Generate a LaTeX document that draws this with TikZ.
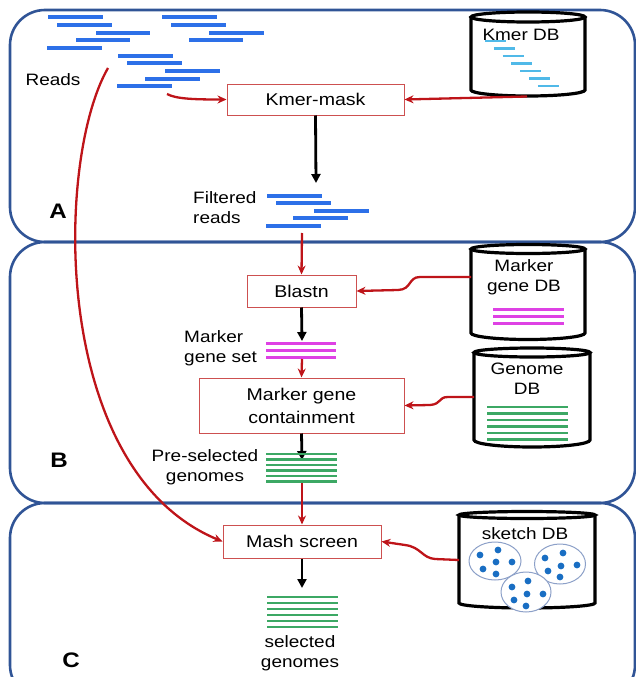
\documentclass[tikz,border=0pt]{standalone}
\usepackage{fontspec}
\setmainfont[FakeStretch=1.15]{Liberation Sans}
\usetikzlibrary{arrows.meta}
\definecolor{panelblue}{RGB}{48,84,150}
\definecolor{readblue}{RGB}{45,112,232}
\definecolor{kmerblue}{RGB}{80,185,232}
\definecolor{mgmag}{RGB}{222,65,228}
\definecolor{gengreen}{RGB}{60,168,100}
\definecolor{dotblue}{RGB}{25,110,195}
\definecolor{skline}{RGB}{140,160,200}
\definecolor{arrred}{RGB}{190,20,25}
\definecolor{boxred}{RGB}{205,80,80}
\begin{document}
\begin{tikzpicture}[x=1pt,y=-1pt,
  panel/.style={draw=panelblue,line width=2.6pt,rounded corners=35pt},
  procbox/.style={draw=boxred,line width=1pt,fill=white,inner sep=0pt,align=center,
    font=\fontsize{17}{23}\selectfont},
  rarrow/.style={draw=arrred,line width=2.3pt,-{Stealth[length=9pt,width=8pt]}},
  barrow/.style={draw=black,line width=2.8pt,-{Triangle[length=9pt,width=9pt]}},
  readbar/.style={draw=readblue,line width=3.8pt},
  kbar/.style={draw=kmerblue,line width=2.2pt},
  mbar/.style={draw=mgmag,line width=3pt},
  gbar/.style={draw=gengreen,line width=2.2pt},
  dbline/.style={draw=black,line width=3.2pt},
  lbl/.style={inner sep=0pt,font=\fontsize{16.5}{20}\selectfont},
  panellbl/.style={inner sep=0pt,font=\fontsize{21}{24}\selectfont\bfseries},
  skell/.style={draw=skline,line width=1pt,fill=white},
]
\useasboundingbox (0,0) rectangle (636,677);
\clip (0,0) rectangle (636,677);

% panels
\draw[panel] (10,10) rectangle (635,242);
\draw[panel] (10,242) rectangle (635,503);
\draw[panel] (10,503) rectangle (635,700);

\node[panellbl] (labA) at (58,211) {A};
\node[panellbl] (labB) at (59,460) {B};
\node[panellbl] (labC) at (71,660) {C};

% reads
\foreach \xa/\xb/\yy in {48/103/17,162/217/17,57/112/25,171/226/25,96/150/33,209/264/33,
  76/130/40,189/243/40,47/102/48,118/173/56,127/182/63,165/220/71,145/200/79,117/172/86}
  \draw[readbar] (\xa,\yy) -- (\xb,\yy);
\node[lbl] (reads) at (53,80) {Reads};
\coordinate (readsout) at (167,94);
\coordinate (readslong) at (108,68);

% Kmer DB
\draw[dbline] (528,17) ellipse[x radius=57,y radius=5];
\draw[dbline] (471,17) -- (471,90) arc[start angle=180,end angle=0,x radius=57,y radius=6] -- (585,17);
\node[lbl] (kmerdb) at (521,35) {Kmer DB};
\foreach \i in {0,...,6}
  \draw[kbar] ({485+8.8*\i},{41+7.5*\i}) -- ({506+8.8*\i},{41+7.5*\i});
\coordinate (kmerdbout) at (527,96.5);

% Kmer-mask
\node[procbox,minimum width=177pt,minimum height=31pt] (kmask) at (315.5,99.5) {Kmer-mask};
\draw[rarrow] (readsout) .. controls (176,99) and (195,99.5) .. (kmask.west);
\draw[rarrow] (kmerdbout) -- (kmask.east);

% filtered reads
\coordinate (frtop) at (316,183);
\draw[barrow] (kmask.south) -- (frtop);
\foreach \xa/\xb/\yy in {267/322/196,276/331/203,314/369/211,293/348/218,266/321/226}
  \draw[readbar] (\xa,\yy) -- (\xb,\yy);
\node[lbl,anchor=west,align=left] (filt) at (193,208) {Filtered\\reads};
\coordinate (frbot) at (302,233);

% Blastn
\node[procbox,minimum width=109pt,minimum height=32pt] (blastn) at (301.5,291) {Blastn};
\draw[rarrow] (frbot) -- (blastn.north);

% Marker gene DB
\draw[dbline] (528,249) ellipse[x radius=57,y radius=4.5];
\draw[dbline] (471,249) -- (471,333) arc[start angle=180,end angle=0,x radius=57,y radius=6.5] -- (585,249);
\node[lbl,align=center] (mgdb) at (524,277) {Marker\\gene DB};
\foreach \yy in {309,316,323} \draw[mbar] (493,\yy) -- (564,\yy);
\coordinate (mgdbout) at (471,277);
\draw[rarrow] (mgdbout) -- (420,277) .. controls (408,277) and (412,289.5) .. (398,290) -- (blastn.east);

% marker gene set
\coordinate (mgstop) at (302,341);
\draw[barrow] (blastn.south) -- (mgstop);
\foreach \yy in {343,350,357} \draw[mbar] (266,\yy) -- (336,\yy);
\node[lbl,anchor=west,align=left] (mgs) at (184,348) {Marker\\gene set};
\coordinate (mgsbot) at (302,359);

% containment
\node[procbox,minimum width=205pt,minimum height=55pt] (cont) at (301.5,405.5) {Marker gene\\containment};
\draw[rarrow] (mgsbot) -- (cont.north);

% Genome DB
\draw[dbline] (532,352.5) ellipse[x radius=58,y radius=4.5];
\draw[dbline] (474,352.5) -- (474,440) arc[start angle=180,end angle=0,x radius=58,y radius=7] -- (590,352.5);
\node[lbl,align=center] (gdb) at (527,379) {Genome\\DB};
\foreach \yy in {407,413.5,420,426.5,433,439.5} \draw[gbar] (487,\yy) -- (568,\yy);
\coordinate (gdbout) at (474,397);
\draw[rarrow] (gdbout) -- (448,397) .. controls (438,397) and (442,404) .. (430,405) -- (cont.east);

% pre-selected genomes
\coordinate (pstop) at (302,460);
\draw[barrow] (cont.south) -- (pstop);
\foreach \yy in {454,459.5,465,470.5,476,481.5} \draw[gbar] (266,\yy) -- (337,\yy);
\node[lbl,align=center] (pre) at (205,467) {Pre-selected\\genomes};
\coordinate (psbot) at (302,483);

% Mash screen
\node[procbox,minimum width=158pt,minimum height=33pt] (mash) at (302,541.5) {Mash screen};
\draw[rarrow] (psbot) -- (mash.north);
\draw[rarrow] (readslong) .. controls (55,160) and (50,470) .. (mash.west);

% sketch DB
\draw[dbline] (527,515) ellipse[x radius=68,y radius=3.5];
\draw[dbline] (459,515) -- (459,603) arc[start angle=180,end angle=0,x radius=68,y radius=5] -- (595,515);
\node[lbl] (skdb) at (525,534) {sketch DB};
\draw[skell] (495,561) ellipse[x radius=26,y radius=19];
\draw[skell] (560,564) ellipse[x radius=25.5,y radius=20];
\draw[skell] (526,592) ellipse[x radius=25,y radius=20];
\foreach \px/\py in {480/555,498/550,496/562,512/562,483/569,496/574,
  545/558,563/553,561/566,577/565,548/571,560/577,
  512/587,528/581,527/594,543/594,514/600,526/606}
  \fill[dotblue] (\px,\py) circle[radius=3.4];
\coordinate (skout) at (459,560);
\draw[rarrow] (skout) -- (435,559) .. controls (422,558) and (421,547) .. (405,545) -- (mash.east);

% selected genomes
\coordinate (seltop) at (302,588);
\draw[barrow] (mash.south) -- (seltop);
\foreach \yy in {597,603,609,615,621,627} \draw[gbar] (267,\yy) -- (338,\yy);
\node[lbl,align=center] (sel) at (300,653) {selected\\genomes};
\end{tikzpicture}
\end{document}
